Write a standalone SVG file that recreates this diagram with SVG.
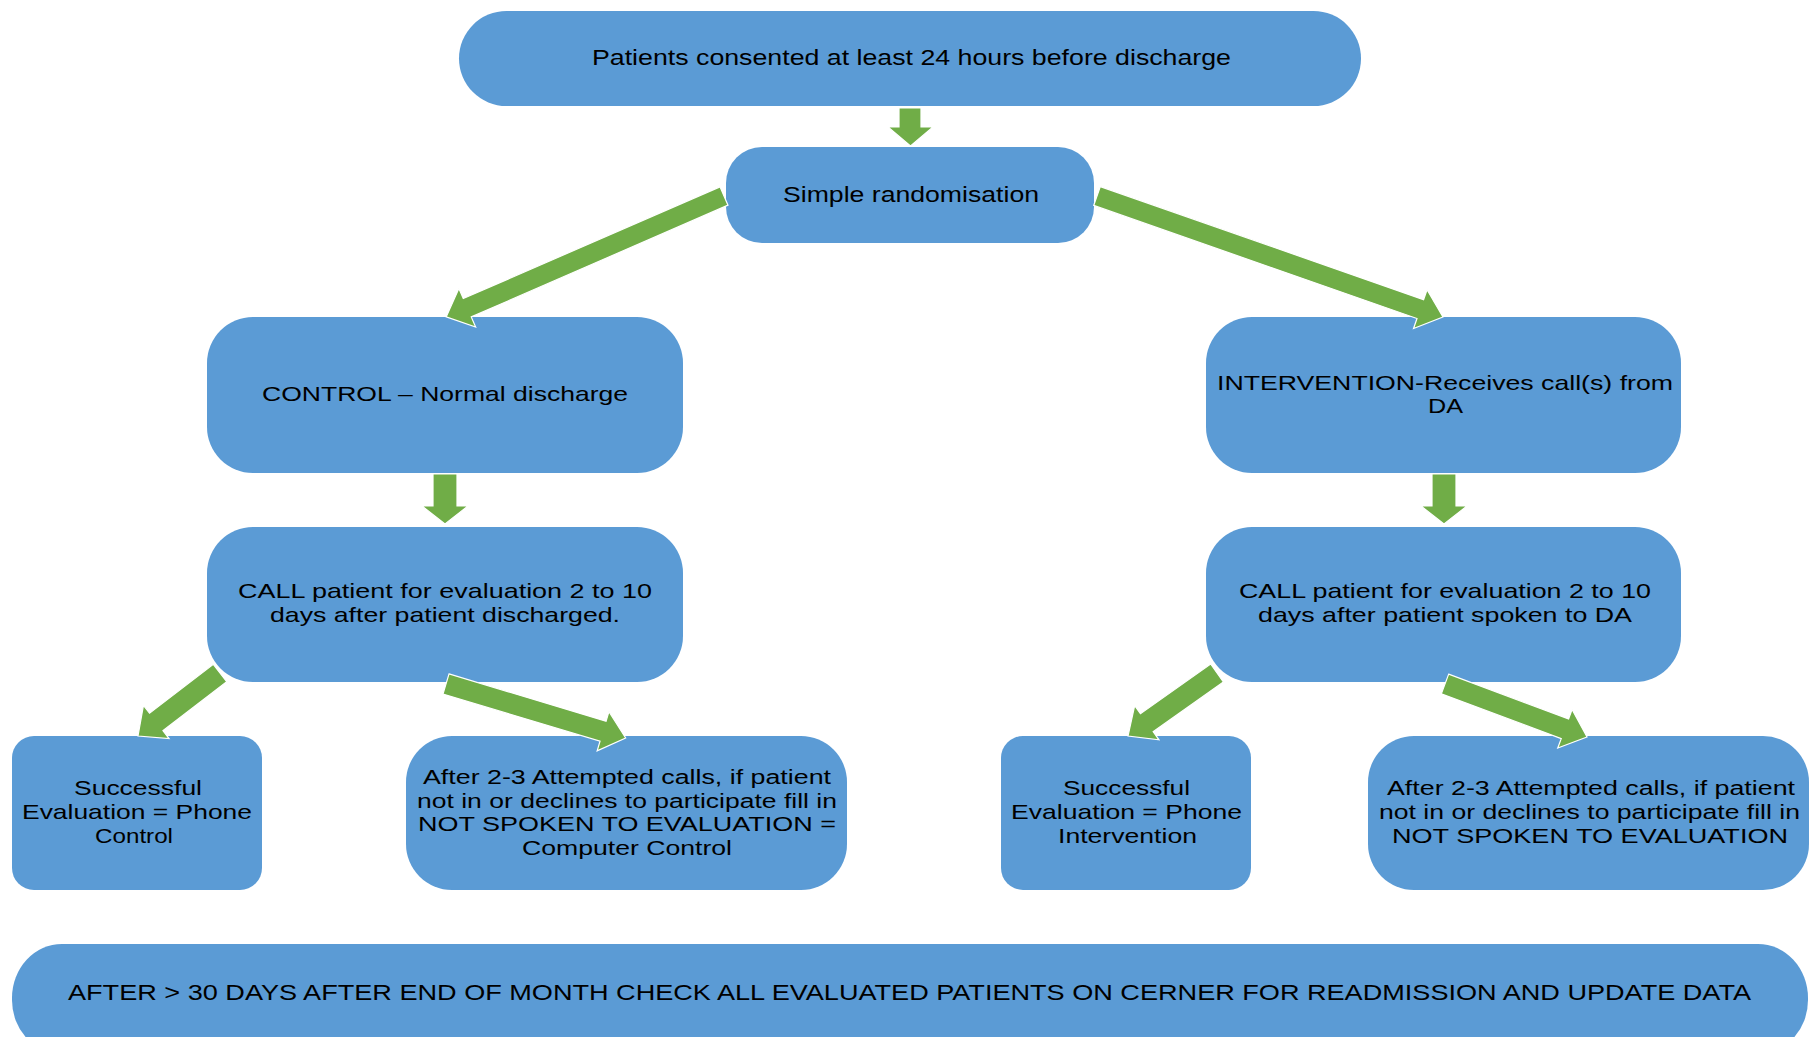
<svg xmlns="http://www.w3.org/2000/svg" width="1810" height="1037" viewBox="0 0 1810 1037">
  <style>
    .node { fill: #5B9BD5; }
    .arrow { fill: #70AD47; stroke: #FFFFFF; stroke-width: 1.2; stroke-linejoin: miter; }
    text { font-family: "Liberation Sans", Arial, sans-serif; fill: #000000; }
    .t22 { font-size: 22px; }
    .t21 { font-size: 21px; }
    .t20 { font-size: 20px; }
  </style>
  <rect width="1810" height="1037" fill="#FFFFFF"/>

  <!-- process boxes -->
  <g id="node-consent">
    <rect class="node" x="459" y="11" width="902" height="95" rx="47.5"/>
    <text class="t22" x="592" y="65" textLength="639" lengthAdjust="spacingAndGlyphs">Patients consented at least 24 hours before discharge</text>
  </g>
  <g id="node-random">
    <rect class="node" x="726" y="147" width="368" height="96" rx="36"/>
    <text class="t22" x="783" y="202" textLength="256" lengthAdjust="spacingAndGlyphs">Simple randomisation</text>
  </g>
  <g id="node-control">
    <rect class="node" x="207" y="317" width="476" height="156" rx="46"/>
    <text class="t21" x="262" y="401" textLength="366" lengthAdjust="spacingAndGlyphs">CONTROL – Normal discharge</text>
  </g>
  <g id="node-intervention">
    <rect class="node" x="1206" y="317" width="475" height="156" rx="46"/>
    <text class="t21" x="1217" y="390" textLength="456" lengthAdjust="spacingAndGlyphs">INTERVENTION-Receives call(s) from</text>
    <text class="t21" x="1428" y="413" textLength="35" lengthAdjust="spacingAndGlyphs">DA</text>
  </g>
  <g id="node-call-control">
    <rect class="node" x="207" y="527" width="476" height="155" rx="46"/>
    <text class="t21" x="238" y="598" textLength="414" lengthAdjust="spacingAndGlyphs">CALL patient for evaluation 2 to 10</text>
    <text class="t21" x="270" y="622" textLength="350" lengthAdjust="spacingAndGlyphs">days after patient discharged.</text>
  </g>
  <g id="node-call-intervention">
    <rect class="node" x="1206" y="527" width="475" height="155" rx="46"/>
    <text class="t21" x="1239" y="598" textLength="412" lengthAdjust="spacingAndGlyphs">CALL patient for evaluation 2 to 10</text>
    <text class="t21" x="1258" y="622" textLength="374" lengthAdjust="spacingAndGlyphs">days after patient spoken to DA</text>
  </g>
  <g id="node-success-control">
    <rect class="node" x="12" y="736" width="250" height="154" rx="22"/>
    <text class="t21" x="74" y="795" textLength="128" lengthAdjust="spacingAndGlyphs">Successful</text>
    <text class="t21" x="22" y="819" textLength="230" lengthAdjust="spacingAndGlyphs">Evaluation = Phone</text>
    <text class="t21" x="95" y="842.5" textLength="78" lengthAdjust="spacingAndGlyphs">Control</text>
  </g>
  <g id="node-notspoken-control">
    <rect class="node" x="406" y="736" width="441" height="154" rx="46"/>
    <text class="t20" x="423" y="784" textLength="408" lengthAdjust="spacingAndGlyphs">After 2-3 Attempted calls, if patient</text>
    <text class="t20" x="417" y="807.5" textLength="420" lengthAdjust="spacingAndGlyphs">not in or declines to participate fill in</text>
    <text class="t20" x="418" y="831" textLength="418" lengthAdjust="spacingAndGlyphs">NOT SPOKEN TO EVALUATION =</text>
    <text class="t20" x="522" y="854.5" textLength="210" lengthAdjust="spacingAndGlyphs">Computer Control</text>
  </g>
  <g id="node-success-intervention">
    <rect class="node" x="1001" y="736" width="250" height="154" rx="22"/>
    <text class="t21" x="1063" y="795" textLength="127" lengthAdjust="spacingAndGlyphs">Successful</text>
    <text class="t21" x="1011" y="819" textLength="231" lengthAdjust="spacingAndGlyphs">Evaluation = Phone</text>
    <text class="t21" x="1058" y="842.5" textLength="139" lengthAdjust="spacingAndGlyphs">Intervention</text>
  </g>
  <g id="node-notspoken-intervention">
    <rect class="node" x="1368" y="736" width="441" height="154" rx="46"/>
    <text class="t20" x="1387" y="795" textLength="408" lengthAdjust="spacingAndGlyphs">After 2-3 Attempted calls, if patient</text>
    <text class="t20" x="1379" y="819" textLength="421" lengthAdjust="spacingAndGlyphs">not in or declines to participate fill in</text>
    <text class="t20" x="1392" y="842.5" textLength="396" lengthAdjust="spacingAndGlyphs">NOT SPOKEN TO EVALUATION</text>
  </g>
  <g id="node-followup">
    <rect class="node" x="12" y="944" width="1796" height="110" rx="50" ry="54"/>
    <text class="t22" x="68" y="1000" textLength="1683" lengthAdjust="spacingAndGlyphs">AFTER &gt; 30 DAYS AFTER END OF MONTH CHECK ALL EVALUATED PATIENTS ON CERNER FOR READMISSION AND UPDATE DATA</text>
  </g>

  <!-- block arrows between the boxes -->
  <g id="connectors">
    <polygon class="arrow" points="899,108 921,108 921,127 933,127 910.5,146 888,127 899,127"/>
    <polygon class="arrow" transform="translate(724,196) rotate(156.48)" points="0,-10 280,-10 280,-21 303,0 280,21 280,10 0,10"/>
    <polygon class="arrow" transform="translate(1097,196) rotate(19.28)" points="0,-10 342.5,-10 342.5,-20.5 366.5,0 342.5,20.5 342.5,10 0,10"/>
    <polygon class="arrow" points="433,474 457,474 457,506 468,506 445,524 422,506 433,506"/>
    <polygon class="arrow" points="1432,474 1456,474 1456,506 1467,506 1444,524 1421,506 1432,506"/>
    <polygon class="arrow" transform="translate(220,673) rotate(142.47)" points="0,-11 80.4,-11 80.4,-21 103.4,0 80.4,21 80.4,11 0,11"/>
    <polygon class="arrow" transform="translate(446,684) rotate(16.73)" points="0,-10.5 164,-10.5 164,-20.5 187.6,0 164,20.5 164,10.5 0,10.5"/>
    <polygon class="arrow" transform="translate(1217,673) rotate(144.7)" points="0,-11 86,-11 86,-21 109,0 86,21 86,11 0,11"/>
    <polygon class="arrow" transform="translate(1445,684) rotate(20.47)" points="0,-10.5 128,-10.5 128,-20.5 151.6,0 128,20.5 128,10.5 0,10.5"/>
  </g>
</svg>
